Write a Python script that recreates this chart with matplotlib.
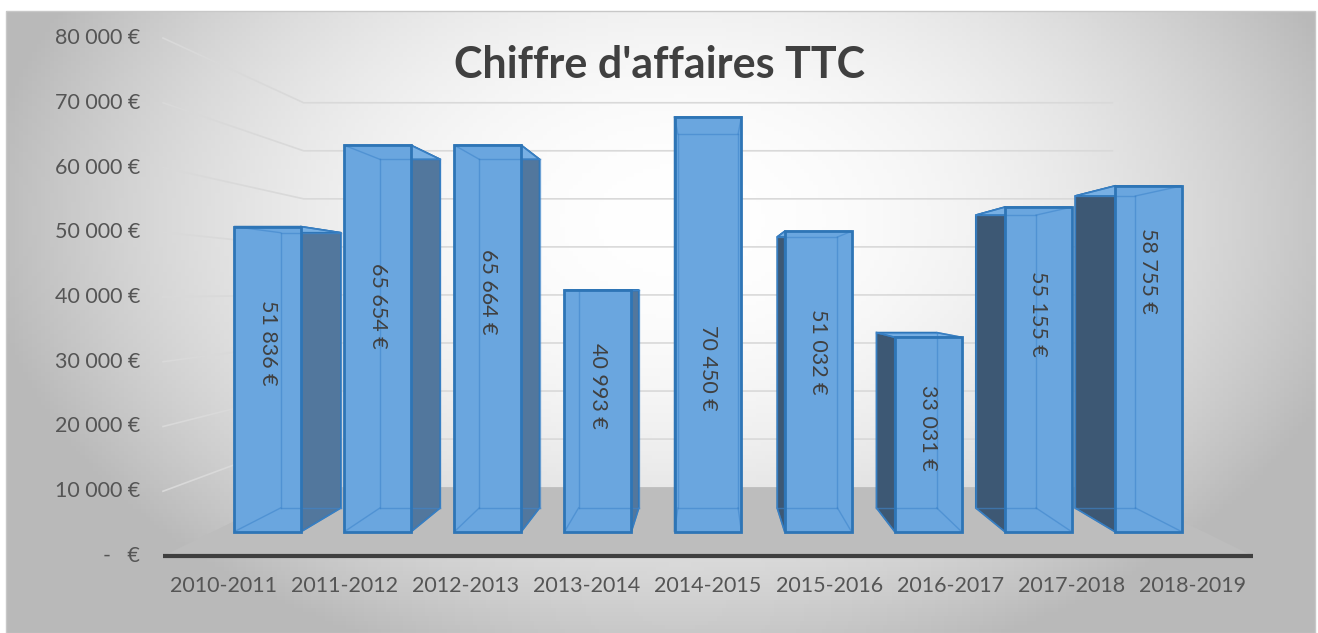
import numpy as np
import matplotlib.pyplot as plt
from matplotlib.patches import Polygon, Rectangle

# data
years = ["2010-2011", "2011-2012", "2012-2013", "2013-2014", "2014-2015",
         "2015-2016", "2016-2017", "2017-2018", "2018-2019"]
ca_ttc = [51836, 65654, 65664, 40993, 70450, 51032, 33031, 55155, 58755]
y_ticks = [0, 10000, 20000, 30000, 40000, 50000, 60000, 70000, 80000]
# where each value label sits along its bar (fraction of the bar height)
label_pos = [0.62, 0.585, 0.62, 0.606, 0.396, 0.6, 0.535, 0.67, 0.755]


def eur(v):
    if v == 0:
        return "-   €"
    return f"{v:,.0f} €".replace(",", " ")


# scene is laid out in picture pixels: a front plane plus a depth scale
# that pulls points toward the vanishing point (Excel-like 3D column chart)
W, H = 1318, 633
VX, VY = 708, 289          # vanishing point
X0, X1 = 163, 1253         # front edge of the floor
BASE = 556                 # value 0 on the front plane
K = 518 / 80000            # px per euro on the front plane
S_BAR_F, S_BAR_B, S_WALL = 0.909, 0.82, 0.742


def proj(x, y, s):
    return (VX + (x - VX) * s, VY + (y - VY) * s)


def fy(v):
    return BASE - v * K


fig = plt.figure(figsize=(W / 100, H / 100), dpi=100)
ax = fig.add_axes([0, 0, 1, 1])
ax.set_xlim(0, W)
ax.set_ylim(H, 0)
ax.axis("off")

# chart area background: soft radial gradient
gx, gy = np.meshgrid(np.linspace(6, 1315, 300), np.linspace(11, 633, 150))
r2 = ((gx - 680) / 700) ** 2 + ((gy - 220) / 470) ** 2
shade = np.clip(255 - 70 * r2, 185, 255) / 255
ax.imshow(np.dstack([shade] * 3), extent=(6, 1315, 633, 11), aspect="auto", zorder=0)
ax.add_patch(Rectangle((6, 11), 1309, 622, fill=False, ec="#c8c8c8", lw=1, zorder=1))

# gridlines: diagonal on the left side wall, then flat on the back wall
for v in y_ticks[1:]:
    p0 = (X0, fy(v))
    p1 = proj(X0, fy(v), S_WALL)
    p2 = proj(X1, fy(v), S_WALL)
    ax.plot([p0[0], p1[0], p2[0]], [p0[1], p1[1], p2[1]], color="#d9d9d9", lw=1.2, zorder=2)

# floor
floor = [(X0, BASE), (X1, BASE), proj(X1, BASE, S_WALL), proj(X0, BASE, S_WALL)]
ax.add_patch(Polygon(floor, closed=True, fc="#bdbdbd", ec="none", zorder=3))
ax.plot([X0, X1], [BASE, BASE], color="#3f3f3f", lw=3, solid_capstyle="butt", zorder=4)

# y tick labels on the front plane
for v in y_ticks:
    ax.text(140, fy(v), eur(v), ha="right", va="center", fontsize=15.5,
            color="#555555", family="Lato", zorder=5)

# columns
n = len(years)
cat_w = (X1 - X0) / n
bw = cat_w * 0.607
front_c = "#6aa6df"
top_c = "#78b0e4"
edge_c = "#2e75b6"

for i, (yr, v) in enumerate(zip(years, ca_ttc)):
    cx = X0 + (i + 0.5) * cat_w
    xl, xr = cx - bw / 2, cx + bw / 2
    yt = fy(v)

    f = [proj(xl, BASE, S_BAR_F), proj(xr, BASE, S_BAR_F),
         proj(xr, yt, S_BAR_F), proj(xl, yt, S_BAR_F)]
    b = [proj(xl, BASE, S_BAR_B), proj(xr, BASE, S_BAR_B),
         proj(xr, yt, S_BAR_B), proj(xl, yt, S_BAR_B)]

    # side face facing the vanishing point
    if cx < VX - 1:
        side = [f[1], b[1], b[2], f[2]]
        side_c = "#52779d"
    else:
        side = [f[0], b[0], b[3], f[3]]
        side_c = "#3d5874"
    ax.add_patch(Polygon(side, closed=True, fc=side_c, ec=edge_c, lw=1.2, zorder=6))

    # top face
    ax.add_patch(Polygon([f[3], f[2], b[2], b[3]], closed=True, fc=top_c,
                         ec=edge_c, lw=1.2, zorder=6))

    # front face
    ax.add_patch(Polygon(f, closed=True, fc=front_c, ec="none", zorder=7))

    # edges seen through the glassy column
    for p, q in [(b[0], b[1]), (b[1], b[2]), (b[2], b[3]), (b[3], b[0]),
                 (f[0], b[0]), (f[1], b[1]), (f[2], b[2]), (f[3], b[3])]:
        ax.plot([p[0], q[0]], [p[1], q[1]], color="#3f86cc", lw=1, alpha=0.6, zorder=8)
    ax.add_patch(Polygon(f, closed=True, fill=False, ec=edge_c, lw=2, zorder=9))

    # value label, rotated inside the column
    ly = BASE - v * label_pos[i] * K
    lx, ly = proj(cx, ly, S_BAR_F)
    ax.text(lx, ly, eur(v), rotation=-90, ha="center", va="center", fontsize=15.5,
            color="#404040", family="Lato", zorder=10)

    # category label under the floor
    ax.text(cx, 586, yr, ha="center", va="center", fontsize=15.5,
            color="#555555", family="Lato", zorder=5)

ax.text(660, 78, "Chiffre d'affaires TTC", ha="center", va="baseline", fontsize=31,
        fontweight="bold", color="#404040", family="Lato", zorder=10)

fig.savefig("out.png", dpi=100)
